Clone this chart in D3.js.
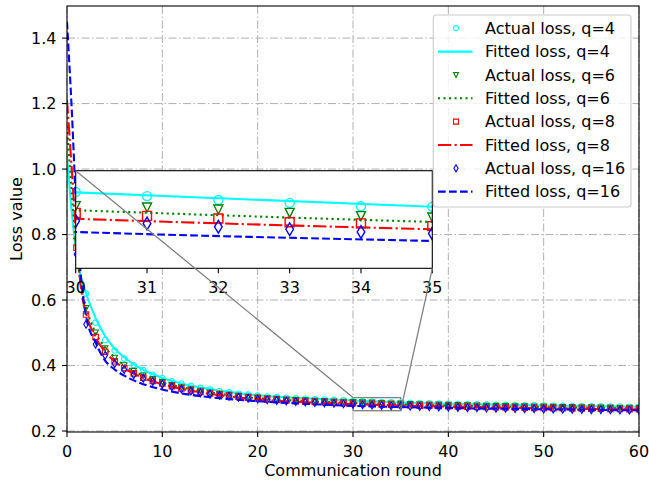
<!DOCTYPE html>
<html><head><meta charset="utf-8">
<script src="https://cdn.jsdelivr.net/npm/d3@7"></script>
<style>body{margin:0;background:#fff} svg{display:block} text{font-family:"DejaVu Sans",sans-serif;fill:#000}</style>
</head><body><svg id="c" width="649" height="480"></svg>
<script>
// ---------- data ----------
const rounds = d3.range(1, 61);
const actualQ4 = [0.800,0.620,0.531,0.478,0.446,0.421,0.401,0.386,0.372,0.362,
 0.352,0.345,0.338,0.332,0.327,0.322,0.318,0.314,0.311,0.308,
 0.3055,0.3035,0.3015,0.2998,0.2984,0.2972,0.2961,0.2950,0.2941,0.2933,
 0.2916,0.2900,0.2888,0.2874,0.2872,0.2862,0.2855,0.2846,0.2840,0.2832,
 0.2826,0.2819,0.2814,0.2807,0.2802,0.2797,0.2791,0.2787,0.2782,0.2778,
 0.2773,0.2769,0.2765,0.2761,0.2757,0.2754,0.2750,0.2747,0.2743,0.2740];
const actualQ6 = [0.780,0.575,0.500,0.452,0.423,0.400,0.383,0.369,0.358,0.349,
 0.340,0.333,0.327,0.322,0.317,0.313,0.310,0.307,0.304,0.3015,
 0.2993,0.2974,0.2956,0.2941,0.2928,0.2916,0.2905,0.2894,0.2884,0.2875,
 0.2869,0.2861,0.2847,0.2834,0.2828,0.2819,0.2812,0.2804,0.2798,0.2790,
 0.2784,0.2777,0.2772,0.2765,0.2760,0.2755,0.2749,0.2745,0.2740,0.2736,
 0.2731,0.2727,0.2723,0.2719,0.2715,0.2712,0.2708,0.2705,0.2701,0.2698];
const actualQ8 = [0.760,0.556,0.487,0.442,0.413,0.392,0.376,0.363,0.353,0.345,
 0.337,0.330,0.324,0.319,0.315,0.311,0.308,0.305,0.302,0.2995,
 0.2972,0.2952,0.2934,0.2918,0.2903,0.2890,0.2878,0.2867,0.2856,0.2847,
 0.2835,0.2824,0.2809,0.2804,0.2793,0.2785,0.2777,0.2770,0.2763,0.2756,
 0.2750,0.2743,0.2738,0.2732,0.2727,0.2721,0.2716,0.2712,0.2707,0.2703,
 0.2698,0.2694,0.2690,0.2686,0.2682,0.2679,0.2675,0.2672,0.2668,0.2665];
const actualQ16 = [0.740,0.526,0.465,0.431,0.406,0.388,0.372,0.361,0.351,0.343,
 0.335,0.328,0.322,0.317,0.313,0.309,0.306,0.303,0.300,0.2975,
 0.2952,0.2932,0.2914,0.2898,0.2883,0.2869,0.2856,0.2843,0.2828,0.2814,
 0.2804,0.2790,0.2780,0.2769,0.2763,0.2755,0.2747,0.2740,0.2733,0.2726,
 0.2720,0.2713,0.2708,0.2702,0.2697,0.2691,0.2686,0.2682,0.2677,0.2673,
 0.2668,0.2664,0.2660,0.2656,0.2652,0.2649,0.2645,0.2642,0.2638,0.2635];

const fitX = [0,0.5,1,1.5,2,3,4,5,6,8,10,12,15,20,25,30,35,40,50,60];
const fittedQ4 = [1.04,0.87,0.74,0.665,0.62,0.545,0.49,0.452,0.425,0.387,0.362,0.345,0.328,0.309,0.300,0.2931,0.2872,0.2833,0.2778,0.2740];
const fittedQ6 = [1.13,0.93,0.75,0.64,0.578,0.50,0.455,0.425,0.401,0.369,0.348,0.334,0.318,0.3005,0.2915,0.2858,0.2810,0.2774,0.2727,0.2693];
const fittedQ8 = [1.21,1.00,0.78,0.63,0.56,0.485,0.442,0.413,0.392,0.362,0.343,0.329,0.3135,0.2965,0.288,0.2823,0.2780,0.2748,0.2695,0.2657];
const fittedQ16 = [1.45,1.18,0.86,0.66,0.55,0.47,0.415,0.388,0.369,0.343,0.327,0.315,0.303,0.2910,0.2830,0.2769,0.2732,0.2703,0.2663,0.2632];

const xTicks = [0,10,20,30,40,50,60];
const yTicks = [0.2,0.4,0.6,0.8,1.0,1.2,1.4];
const insetTicks = [30,31,32,33,34,35];
const legendLabels = ["Actual loss, q=4","Fitted loss, q=4","Actual loss, q=6","Fitted loss, q=6",
  "Actual loss, q=8","Fitted loss, q=8","Actual loss, q=16","Fitted loss, q=16"];
const xLabel = "Communication round";
const yLabel = "Loss value";

// ---------- styles ----------
const series = [
  {actual: actualQ4, fitted: fittedQ4, color: "#00ffff", marker: "circle", dash: null},
  {actual: actualQ6, fitted: fittedQ6, color: "#008000", marker: "tri", dash: "2.1,3.4"},
  {actual: actualQ8, fitted: fittedQ8, color: "#ff0000", marker: "square", dash: "13.3,3.3,2.1,3.3"},
  {actual: actualQ16, fitted: fittedQ16, color: "#0000ff", marker: "diamond", dash: "7.7,3.3"}
];
const FS = 16;

function markerPath(type, s) {
  const h = s / 2;
  if (type === "circle") return `M${h},0A${h},${h} 0 1 1 ${-h},0A${h},${h} 0 1 1 ${h},0Z`;
  if (type === "tri") return `M0,${h}L${-h},${-h}L${h},${-h}Z`;
  if (type === "square") return `M${-h},${-h}h${s}v${s}h${-s}Z`;
  const dh = s * 0.707, dw = dh * 0.6;
  return `M0,${-dh}L${dw},0L0,${dh}L${-dw},0Z`;
}

const svg = d3.select("#c");
const P = {l: 67, r: 639, t: 6, b: 432};
const x = d3.scaleLinear().domain([0, 60]).range([P.l, P.r]);
const y = d3.scaleLinear().domain([0.197, 1.498]).range([P.b, P.t]);

const defs = svg.append("defs");
defs.append("clipPath").attr("id", "mainClip").append("rect")
  .attr("x", P.l).attr("y", P.t).attr("width", P.r - P.l).attr("height", P.b - P.t);

// grid
const grid = svg.append("g").attr("stroke", "#b0b0b0").attr("stroke-width", 1)
  .attr("stroke-dasharray", "8,2.5,1.5,2.5").attr("fill", "none");
xTicks.forEach(t => grid.append("line").attr("x1", x(t)).attr("x2", x(t)).attr("y1", P.t).attr("y2", P.b));
yTicks.forEach(t => grid.append("line").attr("x1", P.l).attr("x2", P.r).attr("y1", y(t)).attr("y2", y(t)));

// zoom box (under data)
const bx0 = x(30), bx1 = x(35), byT = y(0.302), byB = y(0.262);
svg.append("rect").attr("x", bx0).attr("y", byT).attr("width", bx1 - bx0).attr("height", byB - byT)
  .attr("fill", "none").attr("stroke", "#808080").attr("stroke-width", 1.3);

function drawSeries(g, xs, ys, ms, mw, lw) {
  const line = d3.line().x(d => xs(d[0])).y(d => ys(d[1])).curve(d3.curveMonotoneX);
  series.forEach(s => {
    g.append("g").selectAll("path").data(rounds.map((r, i) => [r, s.actual[i]])).join("path")
      .attr("transform", d => `translate(${xs(d[0])},${ys(d[1])})`)
      .attr("d", markerPath(s.marker, ms))
      .attr("fill", "none").attr("stroke", s.color).attr("stroke-width", mw);
    g.append("path").datum(fitX.map((v, i) => [v, s.fitted[i]]))
      .attr("d", line).attr("fill", "none").attr("stroke", s.color).attr("stroke-width", lw)
      .attr("stroke-dasharray", s.dash).attr("stroke-linecap", "butt");
  });
}

const mainG = svg.append("g").attr("clip-path", "url(#mainClip)");
drawSeries(mainG, x, y, 5.5, 1.1, 2.1);

// spines
svg.append("rect").attr("x", P.l).attr("y", P.t).attr("width", P.r - P.l).attr("height", P.b - P.t)
  .attr("fill", "none").attr("stroke", "#000").attr("stroke-width", 1.1);

// ticks & labels
const axG = svg.append("g");
xTicks.forEach(t => {
  axG.append("line").attr("x1", x(t)).attr("x2", x(t)).attr("y1", P.b).attr("y2", P.b + 4.9).attr("stroke", "#000").attr("stroke-width", 1.1);
  axG.append("text").attr("x", x(t)).attr("y", P.b + 24.7).attr("text-anchor", "middle").attr("font-size", FS).text(t);
});
yTicks.forEach(t => {
  axG.append("line").attr("x1", P.l - 4.9).attr("x2", P.l).attr("y1", y(t)).attr("y2", y(t)).attr("stroke", "#000").attr("stroke-width", 1.1);
  axG.append("text").attr("x", P.l - 10.5).attr("y", y(t) + 5.8).attr("text-anchor", "end").attr("font-size", FS).text(t.toFixed(1));
});
axG.append("text").attr("x", (P.l + P.r) / 2).attr("y", 476).attr("text-anchor", "middle").attr("font-size", FS).text(xLabel);
axG.append("text").attr("transform", `translate(22,${(P.t + P.b) / 2}) rotate(-90)`).attr("text-anchor", "middle").attr("font-size", FS).text(yLabel);

// ---------- inset ----------
const I = {l: 75.7, r: 432.3, t: 170.7, b: 268.3};
const xi = d3.scaleLinear().domain([30, 35]).range([I.l, I.r]);
const yi = d3.scaleLinear().domain([0.262, 0.302]).range([I.b, I.t]);
defs.append("clipPath").attr("id", "insetClip").append("rect")
  .attr("x", I.l).attr("y", I.t).attr("width", I.r - I.l).attr("height", I.b - I.t);
svg.append("rect").attr("x", I.l).attr("y", I.t).attr("width", I.r - I.l).attr("height", I.b - I.t).attr("fill", "#fff");
const insG = svg.append("g").attr("clip-path", "url(#insetClip)");
drawSeries(insG, xi, yi, 9, 1.4, 2.1);
svg.append("rect").attr("x", I.l).attr("y", I.t).attr("width", I.r - I.l).attr("height", I.b - I.t)
  .attr("fill", "none").attr("stroke", "#000").attr("stroke-width", 1.1);
insetTicks.forEach(t => {
  svg.append("line").attr("x1", xi(t)).attr("x2", xi(t)).attr("y1", I.b).attr("y2", I.b + 4.9).attr("stroke", "#000").attr("stroke-width", 1.1);
  svg.append("text").attr("x", xi(t)).attr("y", I.b + 24.3).attr("text-anchor", "middle").attr("font-size", FS).text(t);
});

// connectors
svg.append("line").attr("x1", I.l).attr("y1", I.t).attr("x2", bx0).attr("y2", byT).attr("stroke", "#808080").attr("stroke-width", 1.3);
svg.append("line").attr("x1", I.r).attr("y1", I.b).attr("x2", bx1).attr("y2", byB).attr("stroke", "#808080").attr("stroke-width", 1.3);

// ---------- legend ----------
const L = {x: 433.3, y: 15, w: 197.7, h: 192};
const lg = svg.append("g");
lg.append("rect").attr("x", L.x).attr("y", L.y).attr("width", L.w).attr("height", L.h).attr("rx", 3)
  .attr("fill", "#fff").attr("fill-opacity", 0.8).attr("stroke", "#cccccc").attr("stroke-width", 1.1);
legendLabels.forEach((lab, i) => {
  const cy = 28.3 + i * 23.33;
  const s = series[Math.floor(i / 2)];
  if (i % 2 === 0) {
    lg.append("path").attr("transform", `translate(456,${cy})`).attr("d", markerPath(s.marker, 5))
      .attr("fill", "none").attr("stroke", s.color).attr("stroke-width", 1.1);
  } else {
    lg.append("line").attr("x1", 438).attr("x2", 472.5).attr("y1", cy).attr("y2", cy)
      .attr("stroke", s.color).attr("stroke-width", 2.1).attr("stroke-dasharray", s.dash);
  }
  lg.append("text").attr("x", 485).attr("y", cy + 5.8).attr("font-size", FS).text(lab);
});
</script></body></html>
